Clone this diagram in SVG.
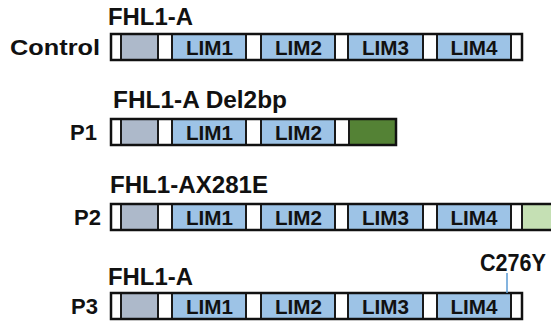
<svg xmlns="http://www.w3.org/2000/svg" width="551" height="324" viewBox="0 0 551 324">
  <style>
    text { font-family: "Liberation Sans", Arial, sans-serif; font-weight: bold; fill: #111; }
    .lbl { font-size: 22px; text-anchor: end; }
    .ttl { font-size: 23px; }
    .lim { font-size: 20.5px; }
    .seg { stroke: #1a1a1a; stroke-width: 2; }
    .w { fill: #ffffff; }
    .g { fill: #adb9ca; }
    .b { fill: #9dc3e6; }
    .dg { fill: #548235; }
    .lg { fill: #c5e0b4; }
  </style>
  <defs>
    <!-- FHL1-A domain layout up to LIM2, box top at y=0, height 26 -->
    <g id="core">
      <rect class="seg w" x="111" y="0" width="10" height="26"/>
      <rect class="seg g" x="121" y="0" width="37" height="26"/>
      <rect class="seg w" x="158" y="0" width="14" height="26"/>
      <rect class="seg b" x="172" y="0" width="74" height="26"/>
      <rect class="seg w" x="246" y="0" width="15" height="26"/>
      <rect class="seg b" x="261" y="0" width="74" height="26"/>
    </g>
    <!-- LIM3, LIM4 and C-terminal spacer -->
    <g id="tail">
      <rect class="seg w" x="335" y="0" width="13" height="26"/>
      <rect class="seg b" x="348" y="0" width="75" height="26"/>
      <rect class="seg w" x="423" y="0" width="14" height="26"/>
      <rect class="seg b" x="437" y="0" width="74" height="26"/>
      <rect class="seg w" x="511" y="0" width="11" height="26"/>
    </g>
    <g id="lim12">
      <text class="lim" x="186" y="20.5" textLength="47" lengthAdjust="spacingAndGlyphs">LIM1</text>
      <text class="lim" x="275" y="20.5" textLength="47" lengthAdjust="spacingAndGlyphs">LIM2</text>
    </g>
    <g id="lim34">
      <text class="lim" x="362" y="20.5" textLength="47" lengthAdjust="spacingAndGlyphs">LIM3</text>
      <text class="lim" x="450.5" y="20.5" textLength="47" lengthAdjust="spacingAndGlyphs">LIM4</text>
    </g>
  </defs>

  <g id="control">
    <text class="ttl" x="108" y="25" textLength="85" lengthAdjust="spacingAndGlyphs">FHL1-A</text>
    <text class="lbl" x="100" y="55" textLength="90" lengthAdjust="spacingAndGlyphs">Control</text>
    <g transform="translate(0,34)">
      <use href="#core"/><use href="#tail"/>
      <use href="#lim12"/><use href="#lim34"/>
      <rect x="111" y="0" width="411" height="26" fill="none" stroke="#111" stroke-width="2.5"/>
    </g>
  </g>

  <g id="p1">
    <text class="ttl" x="113" y="108" textLength="174" lengthAdjust="spacingAndGlyphs">FHL1-A Del2bp</text>
    <text class="lbl" x="97" y="140">P1</text>
    <g transform="translate(0,119)">
      <use href="#core"/>
      <rect class="seg w" x="335" y="0" width="14" height="26"/>
      <rect class="seg dg" x="349" y="0" width="47" height="26"/>
      <use href="#lim12"/>
      <rect x="111" y="0" width="285" height="26" fill="none" stroke="#111" stroke-width="2.5"/>
    </g>
  </g>

  <g id="p2">
    <text class="ttl" x="110" y="193" textLength="158" lengthAdjust="spacingAndGlyphs">FHL1-AX281E</text>
    <text class="lbl" x="101" y="225">P2</text>
    <g transform="translate(0,204)">
      <use href="#core"/><use href="#tail"/>
      <rect class="seg lg" x="522" y="0" width="40" height="26"/>
      <use href="#lim12"/><use href="#lim34"/>
      <rect x="111" y="0" width="450" height="26" fill="none" stroke="#111" stroke-width="2.5"/>
    </g>
  </g>

  <g id="p3">
    <text class="ttl" x="108" y="285" textLength="85" lengthAdjust="spacingAndGlyphs">FHL1-A</text>
    <text class="lbl" x="98" y="314">P3</text>
    <g transform="translate(0,293)">
      <use href="#core"/><use href="#tail"/>
      <use href="#lim12"/><use href="#lim34"/>
      <rect x="111" y="0" width="411" height="26" fill="none" stroke="#111" stroke-width="2.5"/>
    </g>
  </g>

  <g id="connectors">
    <line x1="507" y1="273" x2="507" y2="293" stroke="#5b9bd5" stroke-width="1.5"/>
    <text class="ttl" x="480" y="271" textLength="66" lengthAdjust="spacingAndGlyphs">C276Y</text>
  </g>
</svg>
